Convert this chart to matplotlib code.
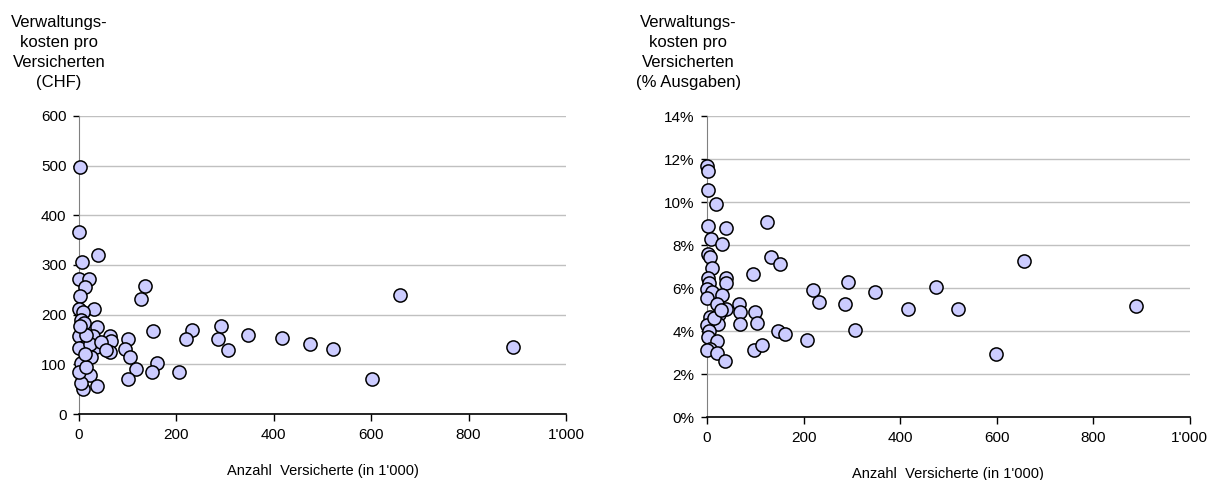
import numpy as np
import matplotlib
matplotlib.use("Agg")
import matplotlib.pyplot as plt
from matplotlib.ticker import FuncFormatter, MultipleLocator

plt.rcParams["font.family"] = ["Liberation Sans", "DejaVu Sans"]

# --- Daten: Verwaltungskosten pro Versicherten (CHF) ---
x_chf = [2, 1, 40, 7, 1, 20, 12, 2, 135, 127,
         0, 31, 8, 5, 10, 37, 152, 233, 292, 347,
         219, 286, 307, 416, 474, 521, 601, 660, 892,
         1, 29, 64, 100, 66, 8, 35, 0, 63, 94, 104,
         25, 5, 161, 118, 150, 205, 100, 5, 22, 38, 8, 5, 0, 14, 22, 15, 3, 45, 55, 12]
y_chf = [497, 367, 320, 305, 271, 271, 256, 238, 258, 231,
         212, 211, 205, 189, 184, 175, 167, 169, 178, 159,
         151, 151, 129, 152, 141, 130, 70, 239, 135,
         156, 156, 157, 151, 146, 135, 135, 132, 125, 130, 115,
         115, 102, 102, 90, 84, 85, 70, 82, 78, 57, 50, 62, 85, 95, 140, 160, 178, 145, 128, 120]

# --- Daten: Verwaltungskosten pro Versicherten (% Ausgaben) ---
x_pct = [0, 1, 2, 19, 2, 40, 125, 8, 32, 1, 6, 133, 152, 11, 95, 2, 39, 4, 39, 0,
         11, 32, 219, 293, 348, 474, 657, 0, 231, 286, 21, 66, 39, 100, 68, 25, 416, 519, 888,
         6, 104, 68, 23, 0, 4, 148, 162, 307, 207, 599, 1, 21, 6, 0, 21, 38, 98, 114, 15, 28]
y_pct = [11.69, 11.45, 10.58, 9.9, 8.87, 8.78, 9.09, 8.3, 8.04, 7.6, 7.43, 7.43, 7.1, 6.92, 6.66,
         6.45, 6.45, 6.22, 6.25, 5.97, 5.8, 5.7, 5.9, 6.27, 5.83, 6.03, 7.27, 5.52, 5.36, 5.28,
         5.25, 5.25, 5.05, 4.87, 4.87, 4.82, 5.03, 5.03, 5.17, 4.66, 4.38, 4.32, 4.32, 4.28, 4.02,
         4.01, 3.86, 4.07, 3.61, 2.92, 3.73, 3.52, 3.19, 3.13, 2.97, 2.61, 3.11, 3.34, 4.6, 5.0]

fig = plt.figure(figsize=(12.19, 4.8), dpi=100)
ax1 = fig.add_axes([0.0648, 0.1375, 0.3995, 0.621])
ax2 = fig.add_axes([0.58, 0.131, 0.396, 0.627])


def tausender(v, pos):
    v = int(round(v))
    return f"{v:,}".replace(",", "'")


def style(ax):
    ax.set_xlim(0, 1000)
    ax.xaxis.set_major_locator(MultipleLocator(200))
    ax.xaxis.set_major_formatter(FuncFormatter(tausender))
    for s in ["top", "right"]:
        ax.spines[s].set_visible(False)
    ax.spines["left"].set_color("#808080")
    ax.spines["bottom"].set_color("black")
    ax.spines["bottom"].set_linewidth(1.2)
    ax.yaxis.grid(True, color="#c0c0c0", lw=1)
    ax.set_axisbelow(True)
    ax.tick_params(axis="x", direction="out", length=5, width=1, labelsize=11, pad=5)
    ax.tick_params(axis="y", direction="out", length=4, width=1, labelsize=11, pad=5,
                   color="black")
    ax.set_xlabel("Anzahl  Versicherte (in 1'000)", fontsize=10.5, labelpad=16)


ax1.scatter(x_chf, y_chf, s=90, facecolor="#ccccff", edgecolor="black", linewidth=1.1,
            zorder=3, clip_on=False)
ax1.set_ylim(0, 600)
ax1.yaxis.set_major_locator(MultipleLocator(100))
style(ax1)

ax2.scatter(x_pct, y_pct, s=90, facecolor="#ccccff", edgecolor="black", linewidth=1.1,
            zorder=3, clip_on=False)
ax2.set_ylim(0, 14)
ax2.yaxis.set_major_locator(MultipleLocator(2))
ax2.yaxis.set_major_formatter(FuncFormatter(lambda v, p: f"{v:.0f}%"))
style(ax2)

fig.text(0.0484, 0.968, "Verwaltungs-\nkosten pro\nVersicherten\n(CHF)", ha="center",
         va="top", fontsize=12, linespacing=1.42, multialignment="center")
fig.text(0.5645, 0.968, "Verwaltungs-\nkosten pro\nVersicherten\n(% Ausgaben)", ha="center",
         va="top", fontsize=12, linespacing=1.42, multialignment="center")

fig.savefig("out.png", dpi=100)
